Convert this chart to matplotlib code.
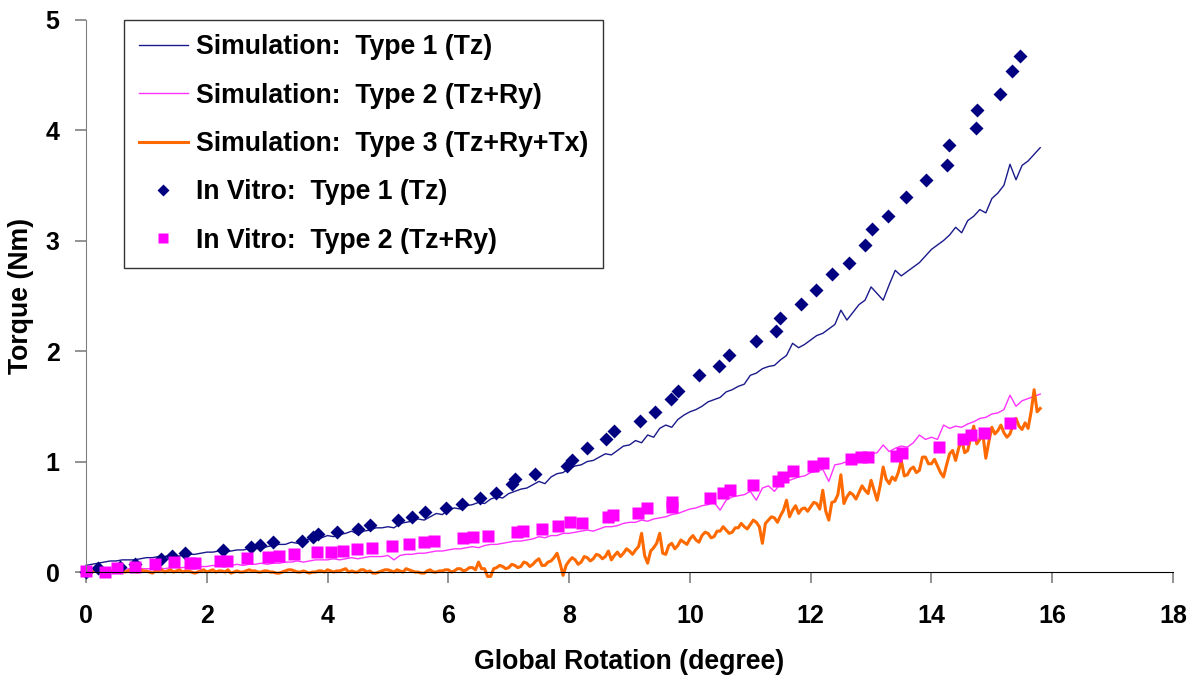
import numpy as np
import matplotlib
matplotlib.use("Agg")
import matplotlib.pyplot as plt

plt.rcParams['font.family'] = ['Liberation Sans', 'DejaVu Sans']
plt.rcParams['font.weight'] = 'bold'

# simulated torque, types 1 and 2 sampled every 0.1 degree (0 to 15.8)
rot_step = 0.1
sim_type1 = [
    0.06, 0.07, 0.08, 0.09, 0.10, 0.10, 0.11, 0.11, 0.11, 0.12,
    0.13, 0.13, 0.14, 0.14, 0.15, 0.14, 0.15, 0.16, 0.16, 0.17,
    0.18, 0.18, 0.19, 0.18, 0.19, 0.20, 0.20, 0.21, 0.22, 0.21,
    0.23, 0.24, 0.25, 0.25, 0.27, 0.26, 0.28, 0.30, 0.29, 0.31,
    0.33, 0.32, 0.34, 0.35, 0.37, 0.34, 0.37, 0.38, 0.40, 0.40,
    0.41, 0.40, 0.44, 0.45, 0.46, 0.48, 0.47, 0.50, 0.53, 0.52,
    0.56, 0.58, 0.57, 0.60, 0.61, 0.63, 0.62, 0.66, 0.68, 0.67,
    0.71, 0.73, 0.75, 0.76, 0.79, 0.82, 0.80, 0.86, 0.89, 0.90,
    0.94, 0.96, 0.97, 1.00, 1.01, 1.04, 1.07, 1.06, 1.10, 1.14,
    1.15, 1.19, 1.17, 1.24, 1.22, 1.30, 1.33, 1.31, 1.38, 1.42,
    1.45, 1.47, 1.50, 1.54, 1.56, 1.58, 1.63, 1.65, 1.68, 1.70,
    1.78, 1.80, 1.84, 1.86, 1.87, 1.92, 1.96, 2.07, 2.03, 2.06,
    2.10, 2.14, 2.16, 2.20, 2.24, 2.37, 2.28, 2.35, 2.42, 2.46,
    2.58, 2.52, 2.46, 2.60, 2.73, 2.68, 2.72, 2.76, 2.80, 2.86,
    2.92, 2.96, 3.00, 3.05, 3.12, 3.07, 3.18, 3.22, 3.28, 3.25,
    3.38, 3.43, 3.50, 3.69, 3.55, 3.68, 3.72, 3.78, 3.84,
]
sim_type2 = [
    0.01, 0.01, 0.01, 0.02, 0.02, 0.02, 0.02, 0.03, 0.02, 0.03,
    0.03, 0.03, 0.04, 0.03, 0.04, 0.04, 0.04, 0.05, 0.04, 0.05,
    0.05, 0.06, 0.05, 0.06, 0.06, 0.07, 0.06, 0.07, 0.07, 0.08,
    0.07, 0.08, 0.08, 0.09, 0.09, 0.10, 0.09, 0.10, 0.11, 0.11,
    0.11, 0.12, 0.11, 0.12, 0.13, 0.12, 0.13, 0.14, 0.14, 0.14,
    0.15, 0.11, 0.15, 0.16, 0.16, 0.17, 0.17, 0.18, 0.19, 0.19,
    0.20, 0.21, 0.21, 0.22, 0.23, 0.22, 0.24, 0.25, 0.25, 0.26,
    0.27, 0.28, 0.28, 0.29, 0.30, 0.32, 0.31, 0.33, 0.33, 0.35,
    0.35, 0.36, 0.37, 0.38, 0.37, 0.39, 0.41, 0.41, 0.42, 0.44,
    0.45, 0.45, 0.47, 0.46, 0.48, 0.49, 0.50, 0.52, 0.53, 0.55,
    0.57, 0.58, 0.60, 0.61, 0.63, 0.56, 0.65, 0.68, 0.69, 0.70,
    0.73, 0.65, 0.76, 0.78, 0.73, 0.80, 0.82, 0.84, 0.86, 0.87,
    0.90, 0.91, 0.93, 0.82, 0.97, 0.98, 1.00, 1.01, 1.04, 1.05,
    1.07, 1.08, 1.15, 1.09, 1.12, 1.14, 1.13, 1.17, 1.24, 1.20,
    1.22, 1.20, 1.33, 1.30, 1.32, 1.31, 1.34, 1.36, 1.39, 1.40,
    1.43, 1.44, 1.47, 1.60, 1.50, 1.55, 1.57, 1.59, 1.61,
]
# type 3 is noisier, sampled every 0.05 degree (0 to 15.8)
rot_step_fine = 0.05
sim_type3 = [
    0.01, 0.00, 0.00, 0.01, 0.01, 0.00, 0.02, 0.01, 0.01, 0.00,
    0.00, 0.01, 0.01, 0.00, 0.01, 0.02, 0.01, 0.00, 0.02, 0.01,
    0.01, 0.00, -0.01, 0.01, 0.01, 0.02, 0.00, 0.01, 0.02, 0.00,
    0.01, 0.02, 0.00, 0.01, 0.01, 0.00, -0.01, 0.00, 0.01, 0.02,
    0.00, 0.01, 0.02, 0.00, 0.01, 0.01, 0.00, 0.02, -0.01, 0.00,
    0.01, 0.00, 0.00, 0.01, 0.02, 0.01, 0.01, 0.00, 0.00, 0.01,
    0.01, 0.00, 0.00, -0.01, -0.01, 0.00, 0.01, 0.02, 0.02, 0.01,
    0.00, 0.00, 0.01, 0.00, -0.01, 0.00, 0.00, 0.01, 0.01, 0.00,
    0.02, 0.01, 0.00, 0.01, 0.01, 0.02, 0.03, 0.00, 0.01, 0.00,
    0.00, 0.02, 0.02, 0.00, 0.01, -0.01, -0.01, 0.00, 0.01, 0.02,
    0.02, 0.01, 0.00, 0.02, 0.01, 0.00, 0.03, 0.02, 0.01, 0.00,
    0.00, -0.01, -0.01, 0.01, 0.02, 0.00, 0.00, 0.01, 0.01, 0.02,
    0.02, 0.00, 0.01, 0.03, 0.03, 0.01, 0.02, 0.04, 0.04, 0.02,
    0.09, 0.03, 0.03, -0.04, -0.04, 0.03, 0.04, 0.06, 0.05, 0.03,
    0.04, 0.07, 0.06, 0.04, 0.05, 0.09, 0.08, 0.05, 0.07, 0.10,
    0.12, 0.06, 0.06, 0.09, 0.10, 0.13, 0.17, 0.08, -0.03, 0.06,
    0.10, 0.13, 0.11, 0.07, 0.09, 0.14, 0.13, 0.10, 0.12, 0.16,
    0.15, 0.12, 0.14, 0.19, 0.11, 0.15, 0.18, 0.14, 0.17, 0.21,
    0.19, 0.16, 0.20, 0.23, 0.35, 0.15, 0.08, 0.19, 0.22, 0.26,
    0.35, 0.17, 0.16, 0.24, 0.26, 0.21, 0.24, 0.29, 0.27, 0.25,
    0.30, 0.33, 0.29, 0.27, 0.33, 0.36, 0.35, 0.31, 0.32, 0.37,
    0.37, 0.41, 0.38, 0.35, 0.36, 0.40, 0.40, 0.44, 0.41, 0.39,
    0.43, 0.47, 0.45, 0.41, 0.26, 0.44, 0.47, 0.50, 0.49, 0.45,
    0.51, 0.56, 0.65, 0.50, 0.56, 0.60, 0.53, 0.57, 0.58, 0.55,
    0.59, 0.63, 0.62, 0.57, 0.74, 0.55, 0.47, 0.63, 0.64, 0.70,
    0.88, 0.62, 0.68, 0.72, 0.70, 0.66, 0.72, 0.78, 0.74, 0.71,
    0.83, 0.74, 0.65, 0.78, 0.95, 0.84, 0.80, 0.86, 0.83, 0.90,
    1.01, 0.87, 0.88, 0.93, 0.95, 0.90, 0.92, 1.04, 1.04, 0.98,
    0.98, 1.02, 0.96, 0.90, 0.86, 0.97, 1.07, 1.10, 1.01, 1.12,
    1.20, 1.08, 1.10, 1.22, 1.32, 1.16, 1.20, 1.25, 1.03, 1.18,
    1.31, 1.25, 1.28, 1.33, 1.26, 1.22, 1.25, 1.33, 1.39, 1.32,
    1.29, 1.35, 1.30, 1.45, 1.65, 1.45, 1.48,
]
sim_rot = np.round(np.arange(len(sim_type1)) * rot_step, 2)
sim_rot_fine = np.round(np.arange(len(sim_type3)) * rot_step_fine, 2)

# in vitro measurements
vitro1_rot = [0.0, 0.20, 0.56, 0.81, 1.25, 1.42, 1.64, 2.27, 2.74, 2.88,
              3.10, 3.57, 3.76, 3.85, 4.15, 4.51, 4.70, 5.17, 5.39, 5.61,
              5.96, 6.23, 6.52, 6.79, 7.05, 7.11, 7.43, 7.96, 8.04, 8.29,
              8.61, 8.74, 9.18, 9.42, 9.69, 9.81, 10.15, 10.49, 10.64, 11.09,
              11.42, 11.50, 11.84, 12.09, 12.36, 12.64, 12.90, 13.02, 13.28,
              13.58, 13.91, 14.25, 14.29, 14.73, 14.76, 15.13, 15.33, 15.47]
vitro1_torque = [0.0, 0.033, 0.048, 0.072, 0.12, 0.145, 0.169, 0.199, 0.229,
                 0.242, 0.269, 0.281, 0.320, 0.344, 0.365, 0.387, 0.424,
                 0.471, 0.501, 0.540, 0.576, 0.615, 0.670, 0.712, 0.80, 0.84,
                 0.89, 0.959, 1.017, 1.12, 1.20, 1.28, 1.37, 1.45, 1.57, 1.64,
                 1.78, 1.86, 1.96, 2.09, 2.18, 2.30, 2.43, 2.55, 2.70, 2.80,
                 2.96, 3.10, 3.22, 3.39, 3.55, 3.68, 3.86, 4.02, 4.18, 4.33,
                 4.53, 4.67]
vitro2_rot = [0.0, 0.31, 0.52, 0.81, 1.14, 1.46, 1.72, 1.80, 2.22, 2.33,
              2.67, 3.02, 3.20, 3.44, 3.82, 4.05, 4.26, 4.48, 4.73, 5.06,
              5.35, 5.60, 5.77, 6.25, 6.41, 6.66, 7.13, 7.24, 7.55, 7.82,
              8.02, 8.21, 8.65, 8.73, 9.14, 9.29, 9.70, 9.70, 10.34, 10.54,
              10.66, 11.05, 11.46, 11.54, 11.70, 12.04, 12.21, 12.66, 12.84,
              12.95, 13.42, 13.52, 14.12, 14.52, 14.66, 14.87, 15.30]
vitro2_torque = [0.005, 0.003, 0.033, 0.048, 0.070, 0.088, 0.079, 0.079,
                 0.102, 0.102, 0.124, 0.139, 0.145, 0.160, 0.184, 0.184,
                 0.190, 0.211, 0.220, 0.235, 0.251, 0.269, 0.283, 0.305,
                 0.320, 0.326, 0.359, 0.374, 0.389, 0.419, 0.450, 0.446,
                 0.495, 0.516, 0.537, 0.576, 0.591, 0.636, 0.667, 0.712,
                 0.742, 0.787, 0.824, 0.862, 0.917, 0.959, 0.983, 1.02, 1.04,
                 1.04, 1.05, 1.08, 1.13, 1.20, 1.24, 1.26, 1.35]

labels = ['Simulation:  Type 1 (Tz)',
          'Simulation:  Type 2 (Tz+Ry)',
          'Simulation:  Type 3 (Tz+Ry+Tx)',
          'In Vitro:  Type 1 (Tz)',
          'In Vitro:  Type 2 (Tz+Ry)']

fig = plt.figure(figsize=(11.96, 6.78), dpi=100)
ax = fig.add_axes([0.0719, 0.1563, 0.9089, 0.8149])

ax.plot(sim_rot, sim_type1, color='#1a1a8c', lw=1.0, label=labels[0],
        clip_on=False)
ax.plot(sim_rot, sim_type2, color='#ff33ff', lw=1.0, label=labels[1],
        clip_on=False)
ax.plot(sim_rot_fine, sim_type3, color='#ff6a00', lw=2.2, label=labels[2],
        clip_on=False)
ax.plot(vitro1_rot, vitro1_torque, 'D', color='#000080', ms=7.5,
        mec='none', label=labels[3], clip_on=False)
ax.plot(vitro2_rot, vitro2_torque, 's', color='#ff00ff', ms=9,
        mec='none', label=labels[4], clip_on=False)

ax.set_xlim(0, 18)
ax.set_ylim(0, 5)
ax.set_xticks(range(0, 19, 2))
ax.set_yticks(range(0, 6))

for side in ['top', 'right']:
    ax.spines[side].set_visible(False)
ax.spines['left'].set_color('#808080')
ax.spines['bottom'].set_color('black')
ax.tick_params(axis='both', colors='#808080', labelcolor='black',
               length=8, width=1.2, labelsize=18)
ax.tick_params(axis='x', pad=15)
ax.tick_params(axis='y', pad=11)
for lab in ax.get_xticklabels() + ax.get_yticklabels():
    lab.set_fontweight('bold')

ax.set_xlabel('Global Rotation (degree)', fontsize=19.2, fontweight='bold',
              labelpad=15)
ax.set_ylabel('Torque (Nm)', fontsize=19.2, fontweight='bold', labelpad=8)

leg = ax.legend(loc='upper left', bbox_to_anchor=(0.035, 1.0),
                borderaxespad=0, fontsize=19.2, frameon=True,
                fancybox=False, numpoints=1, handlelength=1.85,
                handletextpad=0.3, labelspacing=0.84, borderpad=0.55,
                markerscale=0.8)
leg.get_frame().set_edgecolor('black')
leg.get_frame().set_linewidth(1.0)
for t in leg.get_texts():
    t.set_fontweight('bold')

fig.savefig('out.png', dpi=100)
